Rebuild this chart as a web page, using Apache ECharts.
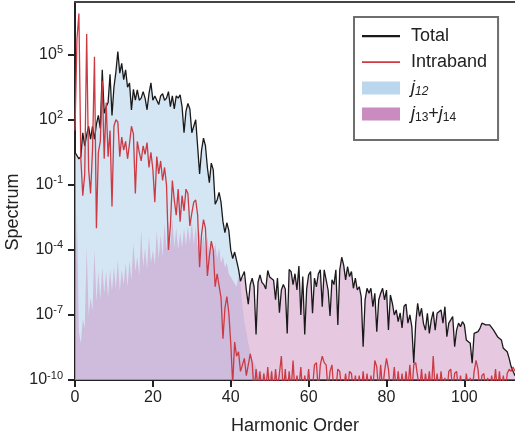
<!DOCTYPE html>
<html>
<head>
<meta charset="utf-8">
<script src="https://cdn.jsdelivr.net/npm/echarts@6/dist/echarts.min.js"></script>
<style>
  html, body { margin: 0; padding: 0; background: #fff; }
  #chart { width: 515px; height: 441px; }
</style>
</head>
<body>
<div id="chart"></div>
<script>
// Spectra sampled every half harmonic order, starting at order 0.
// Values are stored as log10 of the spectral intensity.
const harmonicStep = 0.5;

const totalLog = [
  0.5, 0.5, 0.2, 0.3, 1.4, 0.8, 1.3, 1.7, 1.1, 1.7,
  1.1, 1.8, 2.2, 1.6, 4.3, 2.3, 2.6, 2.8, 4.1, 2.2,
  3.5, 4.2, 5.15, 4.15, 4.6, 3.85, 4.3, 3.5, 3.7, 2.45,
  3.4, 2.9, 3.38, 2.9, 3.0, 3.3, 3.0, 2.46, 3.2, 3.7,
  2.9, 3.1, 3.1, 2.7, 3.1, 3.2, 2.9, 3.0, 3.3, 2.6,
  3.1, 2.5, 3.1, 3.0, 3.15, 2.6, 1.4, 2.4, 2.75, 2.5,
  1.4, 1.7, 2.0, 2.0, -0.5, 0.6, 1.15, 0.8, -0.2, -0.9,
  0.0, -0.3, -1.9, -1.7, -1.35, -1.8, -2.7, -3.2, -2.75, -3.1,
  -4.0, -4.4, -4.1, -4.5, -4.9, -5.45, -5.2, -5.0, -5.85, -6.5,
  -5.6, -5.3, -5.7, -7.9, -5.5, -5.15, -5.5, -5.6, -5.8, -4.95,
  -5.25, -5.2, -5.4, -6.3, -5.3, -6.9, -5.85, -5.6, -5.8, -7.85,
  -4.9, -5.0, -5.6, -5.1, -5.85, -4.74, -7.0, -5.23, -7.9, -5.8,
  -5.15, -5.0, -6.92, -5.3, -5.7, -5.1, -4.92, -6.62, -4.92, -5.0,
  -5.85, -7.05, -5.38, -5.6, -4.92, -7.46, -4.92, -4.34, -4.7, -5.38,
  -4.77, -5.23, -5.0, -5.77, -5.3, -5.85, -5.7, -6.15, -8.46, -6.31,
  -5.77, -6.0, -5.77, -6.62, -6.0, -7.77, -6.31, -6.0, -5.77, -6.31,
  -5.85, -7.69, -6.08, -6.46, -7.0, -6.77, -7.31, -6.9, -7.6, -6.6,
  -6.5, -7.38, -7.0, -7.54, -9.23, -7.38, -6.46, -7.07, -6.69, -7.4,
  -7.7, -6.92, -7.85, -7.23, -6.85, -7.7, -6.92, -6.92, -6.77, -7.38,
  -6.62, -8.0, -7.38, -7.23, -7.07, -8.46, -7.7, -7.38, -7.54, -7.31,
  -7.46, -8.15, -8.08, -8.3, -9.23, -7.85, -7.77, -7.77, -7.62, -7.38,
  -7.46, -7.46, -7.54, -7.46, -7.54, -7.7, -7.77, -8.0, -8.08, -8.15,
  -8.54, -8.6, -8.7, -9.0, -9.38, -9.6, -9.8
];

const intrabandLog = [
  1.5, 5.7, 6.9, 0.2, -1.5, -0.5, 5.95, -0.3, -1.4, 0.6,
  4.9, -3.0, 0.5, 1.0, 3.8, 0.2, 2.8, 0.3, 1.5, -2.0,
  1.7, 2.0, 1.9, 0.3, 1.2, 0.6, 1.0, 0.2, 0.9, 1.7,
  1.35, -1.4, 1.0, 0.5, 0.1, 0.8, 0.4, 0.95, -0.2, 0.5,
  -0.3, -1.8, 0.3, -0.5, 0.1, -0.8, -0.2, -1.0, -4.0, -2.9,
  -0.8, -1.7, -2.4, -1.2, -2.7, -1.5, -2.2, -1.2, -1.4, -2.9,
  -2.3, -1.8, -1.7, -2.4, -4.8, -3.3, -2.6, -3.0, -5.2, -4.3,
  -3.6, -4.0, -5.7, -5.1, -5.15, -6.2, -8.1, -6.7, -6.15, -6.9,
  -8.3, -10.2, -8.25, -8.9, -8.7, -9.6, -9.3, -9.0, -9.8, -9.3,
  -8.8, -9.2, -10.6, -9.5, -10.4, -9.6, -10.7, -9.7, -10.5, -9.4,
  -10.6, -9.6, -10.8, -9.5, -10.4, -9.7, -8.9, -10.6, -9.5, -10.7,
  -9.6, -10.5, -9.1, -10.6, -9.8, -10.4, -9.4, -10.7, -9.8, -10.5,
  -9.5, -10.6, -10.4, -9.3, -9.2, -10.6, -9.3, -8.9, -9.2, -9.3,
  -10.5, -9.6, -9.3, -10.6, -10.4, -9.5, -9.6, -10.6, -10.4, -9.7,
  -10.5, -9.6, -9.7, -10.6, -9.8, -10.5, -9.8, -10.6, -9.6, -10.5,
  -9.7, -10.6, -9.8, -10.4, -9.1, -9.4, -10.6, -9.3, -10.5, -9.6,
  -9.0, -9.5, -10.6, -10.4, -9.4, -10.6, -9.6, -10.5, -9.7, -10.6,
  -9.6, -10.4, -9.3, -10.6, -9.3, -9.2, -9.2, -10.5, -9.5, -10.6,
  -9.7, -10.4, -9.6, -10.6, -8.9, -10.5, -9.7, -10.6, -9.6, -10.4,
  -9.9, -10.6, -9.6, -9.5, -10.5, -9.7, -9.6, -10.6, -9.8, -10.5,
  -10.6, -9.7, -10.4, -9.9, -10.6, -9.6, -9.1, -9.5, -10.6, -9.8,
  -9.7, -10.5, -9.9, -10.6, -9.8, -10.4, -9.5, -10.6, -9.6, -10.5,
  -9.8, -10.6, -9.7, -9.5, -9.6, -9.4, -9.6
];

// j12 component: only the part up to order ~60 lies above the axis floor
const j12Log = [
  0.5, 0.5, 0.2, 0.3, 1.4, 0.8, 1.3, 1.7, 1.1, 1.7,
  1.1, 1.8, 2.2, 1.6, 4.3, 2.3, 2.6, 2.8, 4.1, 2.2,
  3.5, 4.2, 5.15, 4.15, 4.6, 3.85, 4.3, 3.5, 3.7, 2.45,
  3.4, 2.9, 3.38, 2.9, 3.0, 3.3, 3.0, 2.46, 3.2, 3.7,
  2.9, 3.1, 3.1, 2.7, 3.1, 3.2, 2.9, 3.0, 3.3, 2.6,
  3.1, 2.5, 3.1, 3.0, 3.15, 2.6, 1.4, 2.4, 2.75, 2.5,
  1.4, 1.7, 2.0, 2.0, -0.5, 0.6, 1.15, 0.8, -0.2, -0.9,
  0.0, -0.3, -1.9, -1.7, -1.35, -1.8, -2.7, -3.2, -2.75, -3.1,
  -4.0, -4.4, -4.1, -4.5, -5.0, -5.6, -6.6, -7.3, -7.8, -8.3,
  -8.7, -9.0, -9.2, -9.4, -9.6, -9.7, -9.8, -9.6, -9.9, -9.7,
  -9.8, -9.5, -9.9, -9.7, -10.0, -9.6, -9.9, -10.1, -9.7, -10.0,
  -9.8, -10.2, -9.9, -10.3, -10.1, -10.4, -10.2, -10.5, -10.4, -10.6
];

const j1314Log = [
  -7.5, -2.2, -7.8, -8.3, -7.2, -7.6, -3.9, -7.0, -6.2, -6.8,
  -4.0, -6.4, -5.0, -6.3, -4.8, -6.0, -5.0, -6.2, -4.9, -5.9,
  -4.8, -5.8, -4.45, -5.9, -4.9, -5.6, -4.6, -5.7, -4.5, -5.4,
  -3.7, -5.0, -4.3, -5.2, -3.1, -4.8, -3.9, -4.9, -3.4, -4.6,
  -4.0, -4.7, -3.15, -4.4, -3.3, -4.3, -2.8, -4.0, -2.7, -3.8,
  -2.55, -3.9, -3.0, -4.0, -3.2, -3.9, -3.0, -3.8, -2.9, -3.7,
  -2.65, -3.8, -2.9, -3.9, -3.1, -4.0, -3.3, -4.1, -3.4, -4.2,
  -3.6, -4.3, -3.7, -4.4, -3.9, -4.6, -4.3, -4.8, -4.6, -5.1,
  -5.1, -5.4, -5.4, -5.7, -5.2, -5.5, -5.3, -5.2, -5.9, -6.5,
  -5.6, -5.3, -5.7, -7.9, -5.5, -5.15, -5.5, -5.6, -5.8, -4.95,
  -5.25, -5.2, -5.4, -6.3, -5.3, -6.9, -5.85, -5.6, -5.8, -7.85,
  -4.9, -5.0, -5.6, -5.1, -5.85, -4.74, -7.0, -5.23, -7.9, -5.8,
  -5.15, -5.0, -6.92, -5.3, -5.7, -5.1, -4.92, -6.62, -4.92, -5.0,
  -5.85, -7.05, -5.38, -5.6, -4.92, -7.46, -4.92, -4.34, -4.7, -5.38,
  -4.77, -5.23, -5.0, -5.77, -5.3, -5.85, -5.7, -6.15, -8.46, -6.31,
  -5.77, -6.0, -5.77, -6.62, -6.0, -7.77, -6.31, -6.0, -5.77, -6.31,
  -5.85, -7.69, -6.08, -6.46, -7.0, -6.77, -7.31, -6.9, -7.6, -6.6,
  -6.5, -7.38, -7.0, -7.54, -9.23, -7.38, -6.46, -7.07, -6.69, -7.4,
  -7.7, -6.92, -7.85, -7.23, -6.85, -7.7, -6.92, -6.92, -6.77, -7.38,
  -6.62, -8.0, -7.38, -7.23, -7.07, -8.46, -7.7, -7.38, -7.54, -7.31,
  -7.46, -8.15, -8.08, -8.3, -9.23, -7.85, -7.77, -7.77, -7.62, -7.38,
  -7.46, -7.46, -7.54, -7.46, -7.54, -7.7, -7.77, -8.0, -8.08, -8.15,
  -8.54, -8.6, -8.7, -9.0, -9.38, -9.6, -9.8
];

const harmonicTicks = [0, 20, 40, 60, 80, 100];
const spectrumTicks = [1e-10, 1e-7, 1e-4, 1e-1, 1e2, 1e5];
const harmonicMax = 113;
const spectrumMin = 1e-10;
const spectrumMax = Math.pow(10, 7.43);

function toPoints(logs) {
  return logs.map((e, i) => [i * harmonicStep, Math.pow(10, e)]);
}

const FONT = '"Liberation Sans", Arial, Helvetica, sans-serif';
const INK = '#222';

const chart = echarts.init(document.getElementById('chart'), null, { renderer: 'canvas' });

chart.setOption({
  animation: false,
  backgroundColor: '#fff',
  textStyle: { fontFamily: FONT, color: INK },
  grid: { left: 75, right: 0, top: 2, bottom: 61, containLabel: false, outerBoundsMode: 'none' },
  legend: {
    orient: 'vertical',
    left: 354,
    top: 17,
    padding: [9, 11, 16, 8],
    itemGap: 6,
    itemWidth: 44,
    itemHeight: 13,
    borderColor: '#6e6e6e',
    borderWidth: 2,
    selectedMode: false,
    textStyle: {
      fontFamily: FONT,
      fontSize: 18,
      color: INK,
      lineHeight: 20,
      rich: {
        it: { fontFamily: FONT, fontSize: 18, fontStyle: 'italic', color: INK, lineHeight: 20 },
        subI: { fontFamily: FONT, fontSize: 12, fontStyle: 'italic', color: INK, lineHeight: 12, verticalAlign: 'bottom' },
        sub: { fontFamily: FONT, fontSize: 12, color: INK, lineHeight: 12, verticalAlign: 'bottom' },
        n: { fontFamily: FONT, fontSize: 18, color: INK, lineHeight: 20 }
      }
    },
    formatter: function (name) {
      if (name === 'j12') return '{it|j}{subI|12}';
      if (name === 'j13+j14') return '{it|j}{sub|13}{n|+}{it|j}{sub|14}';
      return name;
    },
    data: [
      { name: 'Total', icon: 'path://M0,0M44,13M0,5.5L38,5.5L38,7.7L0,7.7Z',
        itemStyle: { color: '#1a1a1a', borderWidth: 0 }, lineStyle: { width: 0 } },
      { name: 'Intraband', icon: 'path://M0,0M44,13M0,5.8L38,5.8L38,7.4L0,7.4Z',
        itemStyle: { color: '#cc3a44', borderWidth: 0 }, lineStyle: { width: 0 } },
      { name: 'j12', icon: 'path://M0,0M44,13M0,0L38,0L38,13L0,13Z',
        itemStyle: { color: '#bad7ee', opacity: 1, borderWidth: 0 }, lineStyle: { width: 0 } },
      { name: 'j13+j14', icon: 'path://M0,0M44,13M0,0L38,0L38,13L0,13Z',
        itemStyle: { color: '#c98bc0', opacity: 1, borderWidth: 0 }, lineStyle: { width: 0 } }
    ]
  },
  xAxis: [
    {
      type: 'value',
      min: 0,
      max: harmonicMax,
      name: 'Harmonic Order',
      nameLocation: 'middle',
      nameGap: 37,
      nameTextStyle: { fontFamily: FONT, fontSize: 18, color: INK },
      axisLine: { show: true, onZero: false, lineStyle: { color: INK, width: 2 } },
      axisTick: { show: true, inside: false, length: 7, lineStyle: { color: INK, width: 2 }, customValues: harmonicTicks },
      axisLabel: { margin: 10, fontFamily: FONT, fontSize: 16, color: INK, customValues: harmonicTicks },
      splitLine: { show: false }
    },
    {
      type: 'value',
      position: 'top',
      min: 0,
      max: harmonicMax,
      axisLine: { show: true, onZero: false, lineStyle: { color: '#444', width: 2 } },
      axisTick: { show: false },
      axisLabel: { show: false },
      splitLine: { show: false }
    }
  ],
  yAxis: {
    type: 'log',
    logBase: 10,
    min: spectrumMin,
    max: spectrumMax,
    name: 'Spectrum',
    nameLocation: 'middle',
    nameGap: 53,
    nameMoveOverlap: false,
    nameTextStyle: { fontFamily: FONT, fontSize: 18, color: INK, padding: [0, 42, 0, 0] },
    axisLine: { show: true, onZero: false, lineStyle: { color: INK, width: 2 } },
    axisTick: { show: true, inside: false, length: 7, lineStyle: { color: INK, width: 2 }, customValues: spectrumTicks },
    axisLabel: {
      margin: 12,
      customValues: spectrumTicks,
      formatter: function (v) {
        const p = Math.round(Math.log10(v));
        return '{b|10}{s|' + p + '}';
      },
      rich: {
        b: { fontFamily: FONT, fontSize: 16, color: INK, lineHeight: 20 },
        s: { fontFamily: FONT, fontSize: 11, color: INK, lineHeight: 13, verticalAlign: 'top' }
      }
    },
    splitLine: { show: false }
  },
  series: [
    {
      name: 'j12',
      type: 'line',
      data: toPoints(j12Log),
      showSymbol: false,
      symbol: 'none',
      clip: true,
      lineStyle: { width: 0, opacity: 0 },
      itemStyle: { color: '#bad7ee' },
      areaStyle: { color: '#bad7ee', opacity: 0.62, origin: 'start' },
      z: 1
    },
    {
      name: 'j13+j14',
      type: 'line',
      data: toPoints(j1314Log),
      showSymbol: false,
      symbol: 'none',
      clip: true,
      lineStyle: { width: 0, opacity: 0 },
      itemStyle: { color: '#c98bc0' },
      areaStyle: { color: '#c98bc0', opacity: 0.47, origin: 'start' },
      z: 2
    },
    {
      name: 'Total',
      type: 'line',
      data: toPoints(totalLog),
      showSymbol: false,
      symbol: 'none',
      clip: true,
      lineStyle: { color: '#1a1a1a', width: 1.3 },
      itemStyle: { color: '#1a1a1a' },
      z: 3
    },
    {
      name: 'Intraband',
      type: 'line',
      data: toPoints(intrabandLog),
      showSymbol: false,
      symbol: 'none',
      clip: true,
      lineStyle: { color: '#cc3a44', width: 1.3 },
      itemStyle: { color: '#cc3a44' },
      z: 4
    }
  ]
});
</script>
</body>
</html>
